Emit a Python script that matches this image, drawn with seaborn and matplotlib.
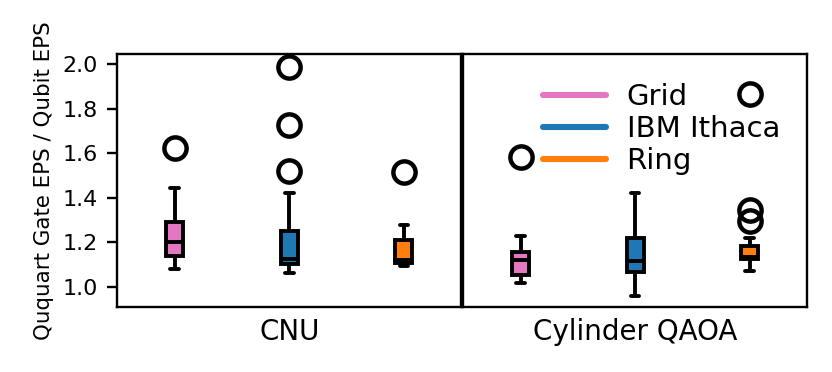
import pandas as pd
import matplotlib
matplotlib.use("Agg")
import matplotlib.pyplot as plt
from matplotlib.lines import Line2D
import seaborn as sns

networks = ["Grid", "IBM Ithaca", "Ring"]
colors = ["#e377c2", "#1f77b4", "#ff7f0e"]

# box summaries: [whisker low, q1, median, q3, whisker high]
cnu_stats = [
    [1.081, 1.139, 1.203, 1.293, 1.444],
    [1.061, 1.103, 1.124, 1.252, 1.423],
    [1.095, 1.105, 1.120, 1.210, 1.278],
]
cnu_fliers = [[1.622], [1.520, 1.726, 1.988], [1.514]]

qaoa_stats = [
    [1.017, 1.054, 1.121, 1.155, 1.226],
    [0.960, 1.066, 1.118, 1.218, 1.423],
    [1.069, 1.124, 1.136, 1.184, 1.221],
]
qaoa_fliers = [[1.581], [], [1.295, 1.345, 1.864]]


def to_frame(stats, fliers):
    # repeat the quartiles so the box statistics land on the read values
    rows = []
    for name, (lo, q1, med, q3, hi), out in zip(networks, stats, fliers):
        vals = [lo] + [q1] * 10 + [med] * 10 + [q3] * 10 + [hi] + out
        rows += [(name, v) for v in vals]
    return pd.DataFrame(rows, columns=["network", "ratio"])


sns.set_style("ticks")
plt.rcParams["font.family"] = ["DejaVu Sans"]
plt.rcParams["text.color"] = "black"
plt.rcParams["axes.labelcolor"] = "black"
plt.rcParams["xtick.color"] = "black"
plt.rcParams["ytick.color"] = "black"

fig, axes = plt.subplots(1, 2, figsize=(4.16, 1.86), dpi=200, sharey=True)
fig.subplots_adjust(left=0.141, right=0.970, top=0.855, bottom=0.175, wspace=0.006)

for ax, stats, fliers, label in zip(axes, [cnu_stats, qaoa_stats], [cnu_fliers, qaoa_fliers],
                                    ["CNU", "Cylinder QAOA"]):
    df = to_frame(stats, fliers)
    sns.boxplot(data=df, x="network", y="ratio", hue="network", palette=colors,
                saturation=1, width=0.15, linewidth=1.4, linecolor="black",
                flierprops=dict(marker="o", markerfacecolor="none", markeredgecolor="black",
                                markersize=8, markeredgewidth=1.6),
                legend=False, ax=ax)
    ax.set_xticks([])
    ax.set_xlabel(label, fontsize=10)
    ax.set_xlim(-0.5, 2.5)
    for s in ax.spines.values():
        s.set_visible(True)
        s.set_linewidth(0.85)
        s.set_color("black")

axes[0].set_ylim(0.91, 2.045)
axes[0].set_yticks([1.0, 1.2, 1.4, 1.6, 1.8, 2.0])
axes[0].tick_params(axis="y", labelsize=8, width=0.85, length=3.5, color="black")
axes[0].set_ylabel("Ququart Gate EPS / Qubit EPS", fontsize=7.7, labelpad=3)
axes[1].set_ylabel("")
axes[1].tick_params(axis="y", left=False, labelleft=False)

handles = [Line2D([0], [0], color=c, lw=2.2) for c in colors]
axes[1].legend(handles, networks, loc="upper left", bbox_to_anchor=(0.157, 0.99),
               frameon=False, fontsize=10.5, handlelength=2.15, handletextpad=0.7,
               labelspacing=0.15)

fig.savefig("out.png", dpi=200)
